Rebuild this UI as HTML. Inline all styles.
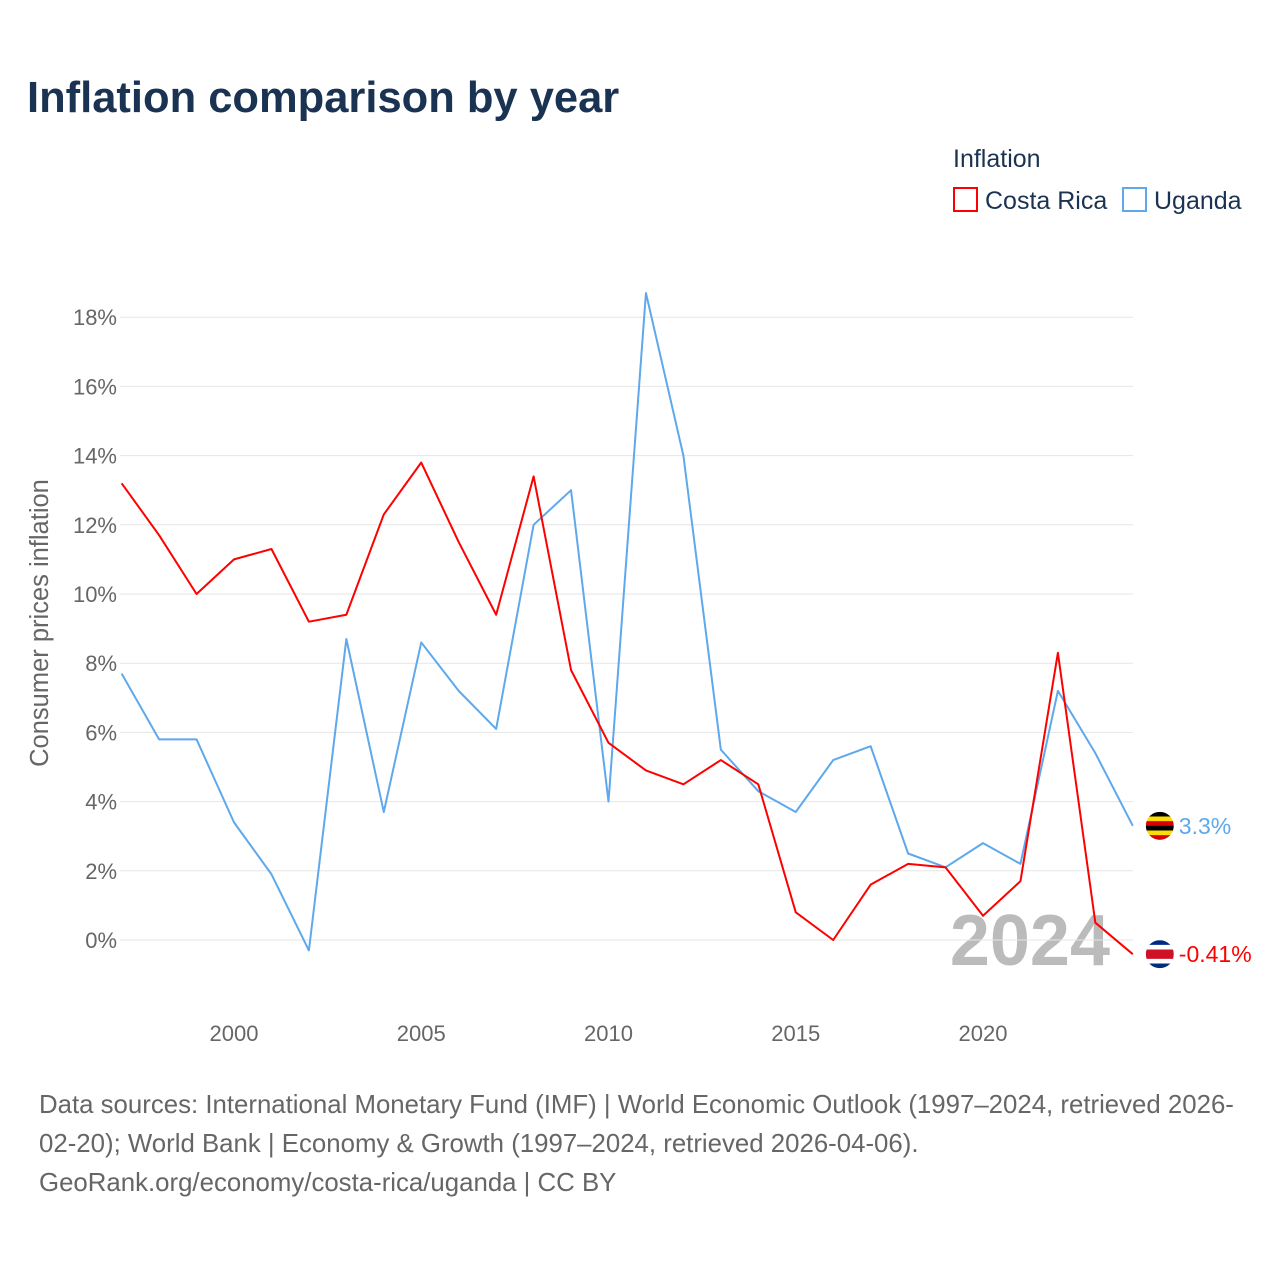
<!DOCTYPE html>
<html><head><meta charset="utf-8"><style>
body{margin:0;background:#fff;font-family:"Liberation Sans",sans-serif;}
#wrap{position:relative;width:1280px;height:1280px;overflow:hidden;}
</style></head><body><div id="wrap">
<svg id="svg" width="1280" height="1280">
<text x="27" y="112" font-size="43.5" font-weight="bold" fill="#1b3353">Inflation comparison by year</text>
<text x="953" y="167" font-size="25" fill="#1b3353">Inflation</text>
<g><rect x="954" y="188" width="23" height="23" fill="none" stroke="#ff0000" stroke-width="2"/><text x="985" y="209" font-size="25" fill="#1b3353">Costa Rica</text></g>
<g><rect x="1123" y="188" width="23" height="23" fill="none" stroke="#5ea8ec" stroke-width="2"/><text x="1154" y="209" font-size="25" fill="#1b3353">Uganda</text></g>
<text transform="translate(48,623) rotate(-90)" text-anchor="middle" font-size="25.5" fill="#666">Consumer prices inflation</text>
<text x="1110" y="965" text-anchor="end" font-size="72" font-weight="bold" fill="#bbb">2024</text>
<g id="grid"></g><g id="series"></g>
<g font-size="25.8" fill="#666">
<text x="39" y="1113">Data sources: International Monetary Fund (IMF) | World Economic Outlook (1997–2024, retrieved 2026-</text>
<text x="39" y="1152">02-20); World Bank | Economy &amp; Growth (1997–2024, retrieved 2026-04-06).</text>
<text x="39" y="1191">GeoRank.org/economy/costa-rica/uganda | CC BY</text>
</g>
</svg></div>
<script>
const years=[1997,1998,1999,2000,2001,2002,2003,2004,2005,2006,2007,2008,2009,2010,2011,2012,2013,2014,2015,2016,2017,2018,2019,2020,2021,2022,2023,2024];
const costaRica=[13.2,11.7,10.0,11.0,11.3,9.2,9.4,12.3,13.8,11.5,9.4,13.4,7.8,5.7,4.9,4.5,5.2,4.5,0.8,0.0,1.6,2.2,2.1,0.7,1.7,8.3,0.5,-0.41];
const uganda=[7.7,5.8,5.8,3.4,1.9,-0.3,8.7,3.7,8.6,7.2,6.1,12.0,13.0,4.0,18.7,14.0,5.5,4.3,3.7,5.2,5.6,2.5,2.1,2.8,2.2,7.2,5.4,3.3];
const yTicks=[0,2,4,6,8,10,12,14,16,18];
const xTicks=[2000,2005,2010,2015,2020];
const NS="http://www.w3.org/2000/svg";
const x=y=>234+(y-2000)*37.45;
const yS=v=>940-v*34.6;
function mk(t,a,p){const e=document.createElementNS(NS,t);for(const k in a)e.setAttribute(k,a[k]);p.appendChild(e);return e;}
const grid=document.getElementById('grid'),ser=document.getElementById('series');
yTicks.forEach(v=>{
 const l=mk('line',{x1:120,x2:1133,y1:yS(v),y2:yS(v),stroke:'#e6e6e6','stroke-width':1},grid);
 
 
 const t=mk('text',{x:117,y:yS(v)+8,'text-anchor':'end','font-size':22,fill:'#666'},grid);t.textContent=v+'%';
 
 
});
xTicks.forEach(v=>{
 const t=mk('text',{x:x(v),y:1041,'text-anchor':'middle','font-size':22,fill:'#666'},grid);t.textContent=v;
 
 
});
function line(vals,color,name){
 const p=mk('polyline',{points:vals.map((v,i)=>x(years[i])+','+yS(v)).join(' '),fill:'none',stroke:color,'stroke-width':2,'stroke-linejoin':'round'},ser);
 
 
}
line(uganda,'#5ea8ec','uganda-line');
line(costaRica,'#ff0000','costa-rica-line');
function endLabel(vals,color,name,txt,flag){
 const v=vals[vals.length-1],cx=x(years[years.length-1])+27,cy=yS(v);
 const g=mk('g',{},ser);
 
 
 const cp='cp'+name;const c=mk('clipPath',{id:cp},g);mk('circle',{cx:cx,cy:cy,r:14},c);
 const fg=mk('g',{'clip-path':'url(#'+cp+')'},g);
 flag.forEach((col,i)=>mk('rect',{x:cx-14,y:cy-14+i*28/flag.length,width:28,height:28/flag.length+0.5,fill:col},fg));
 const t=mk('text',{x:cx+19,y:cy+8,'font-size':23,fill:color},g);t.textContent=txt;
}
endLabel(uganda,'#5ea8ec','uganda-end-label','3.3%',['#000','#fcdc04','#d90000','#000','#fcdc04','#d90000']);
endLabel(costaRica,'#ff0000','costa-rica-end-label','-0.41%',['#002b7f','#fff','#ce1126','#ce1126','#fff','#002b7f']);
</script></body></html>
